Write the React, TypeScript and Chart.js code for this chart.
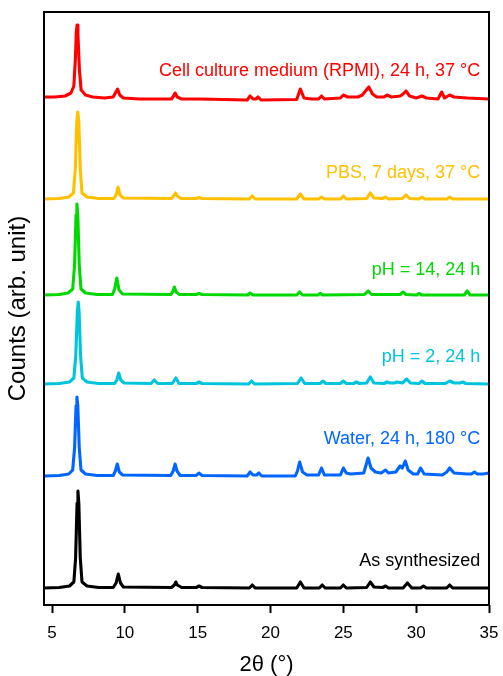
import React, { useEffect, useRef } from 'react';
import Chart from 'chart.js/auto';

// 2θ (°) / intensity (arb.) point lists; each trace relative to its own baseline
const asSynthesized: [number, number][] = [
  [4.45, 0], [5.5, 0.5], [6.2, 2], [6.5, 6], [6.62, 30], [6.72, 85], [6.78, 97], [6.84, 85], [6.94, 30],
  [7.06, 6], [7.4, 2], [8.2, 0.5], [9.2, 0.5], [9.4, 5], [9.55, 14], [9.7, 5], [9.9, 1], [13.2, 0.5],
  [13.4, 3], [13.5, 6], [13.6, 3], [13.9, 0.5], [14.9, 0.5], [15.1, 2], [15.3, 0.5], [18.55, 0], [18.75, 3],
  [18.95, 0], [21.8, 0], [22.05, 6], [22.3, 0], [23.35, 0], [23.55, 3], [23.75, 0], [24.8, 0], [25.0, 3],
  [25.2, 0], [26.6, 0.5], [26.85, 6], [27.1, 1], [27.7, 0.5], [27.9, 2], [28.1, 0], [29.1, 0], [29.4, 5],
  [29.7, 0], [30.3, 0], [30.5, 2], [30.7, 0], [32.1, 0], [32.3, 3], [32.5, 0], [35, 0],
];

const water180: [number, number][] = [
  [4.45, 0], [5.5, 0.5], [6.15, 2], [6.42, 6], [6.55, 28], [6.65, 70], [6.71, 79], [6.77, 70], [6.87, 28],
  [6.99, 6], [7.3, 2], [8.1, 0.5], [9.2, 0.5], [9.35, 5], [9.48, 12], [9.62, 4], [9.85, 1], [13.15, 0.5],
  [13.32, 5], [13.45, 12], [13.58, 5], [13.8, 0.5], [14.9, 0.5], [15.08, 3], [15.3, 0.5], [18.4, 0],
  [18.6, 4], [18.8, 1], [19.05, 1], [19.2, 3], [19.4, 0], [21.7, 0], [21.85, 5], [22.0, 14], [22.2, 4],
  [22.5, 1], [23.3, 1], [23.5, 8], [23.7, 1], [24.8, 1], [25.0, 8], [25.2, 3], [25.5, 2], [26.4, 3],
  [26.7, 18], [26.9, 8], [27.2, 4], [27.6, 3], [27.9, 6], [28.1, 3], [28.6, 4], [28.9, 10], [29.05, 8],
  [29.25, 15], [29.45, 6], [29.8, 2], [30.1, 2], [30.3, 8], [30.55, 2], [31.8, 1], [32.1, 4], [32.3, 8],
  [32.6, 3], [33.5, 2], [33.8, 2], [34.0, 4], [34.2, 2], [34.6, 2], [35, 3],
];

const pH2: [number, number][] = [
  [4.45, 0], [5.5, 0.5], [6.2, 2], [6.5, 6], [6.63, 28], [6.74, 72], [6.8, 82], [6.86, 72], [6.96, 28],
  [7.08, 6], [7.4, 2], [8.2, 0.5], [9.3, 0.5], [9.45, 4], [9.58, 11], [9.72, 4], [9.95, 1], [11.8, 0.5],
  [12.02, 4], [12.25, 0.5], [13.25, 0.5], [13.5, 6], [13.72, 0.5], [14.9, 0.5], [15.1, 2], [15.3, 0.5],
  [18.5, 0], [18.7, 3], [18.9, 0], [21.85, 0.5], [22.1, 6], [22.35, 0.5], [23.4, 0.5], [23.6, 3],
  [23.8, 0.5], [24.8, 0.5], [25.0, 3], [25.2, 0.5], [25.7, 0.5], [25.9, 2], [26.1, 0.5], [26.6, 1],
  [26.85, 7], [27.1, 1], [27.8, 0.5], [28.0, 2], [28.2, 1], [28.5, 1], [28.7, 2], [29.05, 1], [29.35, 5],
  [29.6, 1], [30.2, 0.5], [30.4, 3], [30.6, 0.5], [32.0, 0.5], [32.3, 3], [32.6, 1], [33.0, 1], [33.2, 2],
  [33.4, 0.5], [35, 0],
];

const pH14: [number, number][] = [
  [4.45, 0], [5.5, 0.5], [6.1, 2], [6.42, 6], [6.55, 30], [6.65, 80], [6.71, 91], [6.77, 80], [6.87, 30],
  [6.99, 6], [7.3, 2], [8.1, 0.5], [9.15, 0.5], [9.3, 6], [9.45, 17], [9.6, 5], [9.85, 1], [13.15, 0.5],
  [13.28, 3], [13.4, 8], [13.52, 3], [13.75, 0.5], [14.9, 0.5], [15.1, 1.5], [15.3, 0.5], [18.45, 0],
  [18.6, 2], [18.8, 0], [21.8, 0], [22.0, 3], [22.2, 0], [23.25, 0], [23.4, 1.5], [23.6, 0], [26.45, 0.5],
  [26.7, 4], [26.95, 0.5], [28.9, 0.5], [29.1, 3], [29.3, 0.5], [30.05, 0], [30.2, 1.5], [30.4, 0],
  [33.3, 0], [33.5, 4], [33.7, 0], [35, 0],
];

const pbs7d: [number, number][] = [
  [4.45, 0], [5.5, 0.5], [6.15, 2], [6.47, 6], [6.6, 30], [6.7, 77], [6.77, 87], [6.84, 77], [6.94, 30],
  [7.06, 6], [7.4, 2], [8.2, 0.5], [9.25, 0.5], [9.4, 4], [9.53, 12], [9.67, 4], [9.9, 1], [13.2, 0.5],
  [13.35, 3], [13.48, 6], [13.6, 3], [13.85, 0.5], [14.9, 0.5], [15.1, 1.5], [15.3, 0.5], [18.55, 0],
  [18.75, 3], [18.95, 0], [21.8, 0], [22.05, 5], [22.3, 0], [23.3, 0], [23.5, 2], [23.7, 0], [24.8, 0],
  [25.0, 3], [25.2, 0], [26.6, 0.5], [26.85, 6], [27.1, 1], [27.7, 0.5], [27.9, 2], [28.1, 0], [29.05, 0.5],
  [29.3, 4], [29.55, 0.5], [30.2, 0], [30.4, 2], [30.6, 0], [32.1, 0], [32.3, 2], [32.5, 0], [35, 0],
];

const rpmi24h: [number, number][] = [
  [4.45, 3], [5.2, 3], [5.9, 4], [6.3, 7], [6.5, 14], [6.6, 40], [6.67, 68], [6.72, 75], [6.78, 66],
  [6.88, 30], [7.0, 10], [7.3, 5], [7.8, 3], [8.6, 2], [9.2, 3], [9.35, 7], [9.5, 11], [9.65, 5], [9.9, 2],
  [11, 1], [13.2, 1], [13.35, 4], [13.45, 7], [13.6, 3], [13.9, 1], [15.1, 1], [18.4, 0], [18.6, 4],
  [18.8, 1], [19.0, 1], [19.15, 3], [19.35, 0], [21.8, 0.5], [22.05, 11], [22.3, 2], [22.8, 1], [23.3, 1],
  [23.5, 4], [23.7, 1], [24.8, 2], [25.0, 5], [25.3, 3], [26.0, 3], [26.3, 5], [26.75, 13], [27.0, 6],
  [27.3, 3], [27.8, 3], [28.0, 5], [28.3, 3], [28.9, 4], [29.1, 6], [29.3, 9], [29.55, 4], [30.0, 2],
  [30.4, 4], [30.7, 2], [31.5, 1], [31.75, 8], [31.95, 2], [32.3, 5], [32.6, 3], [33.5, 2], [35, 1],
];

const traces = [asSynthesized, water180, pH2, pH14, pbs7d, rpmi24h];
const traceNames = [
  'As synthesized',
  'Water, 24 h, 180 °C',
  'pH = 2, 24 h',
  'pH = 14, 24 h',
  'PBS, 7 days, 37 °C',
  'Cell culture medium (RPMI), 24 h, 37 °C',
];
const offsets = [17, 129, 221, 310, 406, 505];
const xTicks = [5, 10, 15, 20, 25, 30, 35];

const colors = ['#000000', '#0066ff', '#00c4dc', '#00d800', '#ffc000', '#ff0000'];
const labelLift = [44, 166, 248, 335, 432, 534]; // label centre height in y units
const FONT = '"Liberation Sans", Arial, sans-serif';

const framePlugin = {
  id: 'frameAndLabels',
  afterDatasetsDraw(chart: Chart) {
    const { ctx, chartArea, scales } = chart;
    ctx.save();
    ctx.strokeStyle = '#000';
    ctx.lineWidth = 2;
    ctx.strokeRect(chartArea.left, chartArea.top, chartArea.right - chartArea.left, chartArea.bottom - chartArea.top);
    ctx.font = `18px ${FONT}`;
    ctx.textAlign = 'right';
    ctx.textBaseline = 'middle';
    traceNames.forEach((name, i) => {
      ctx.fillStyle = colors[i];
      ctx.fillText(name, scales.x.getPixelForValue(34.4), scales.y.getPixelForValue(labelLift[i]));
    });
    ctx.restore();
  },
};

export default function App() {
  const canvasRef = useRef<HTMLCanvasElement>(null);
  const chartRef = useRef<Chart>();

  useEffect(() => {
    if (!canvasRef.current) return;
    chartRef.current?.destroy();
    chartRef.current = new Chart(canvasRef.current, {
      type: 'line',
      data: {
        datasets: traces.map((pts, i) => ({
          label: traceNames[i],
          data: pts.map(([x, y]) => ({ x, y: y + offsets[i] })),
          borderColor: colors[i],
          borderWidth: 3.1,
          pointRadius: 0,
          tension: 0,
          borderJoinStyle: 'round' as const,
          fill: false,
        })),
      },
      options: {
        responsive: true,
        maintainAspectRatio: false,
        animation: false,
        layout: { padding: { top: 12, right: 14, left: 0, bottom: 0 } },
        plugins: { legend: { display: false }, tooltip: { enabled: false } },
        scales: {
          x: {
            type: 'linear',
            min: 4.45,
            max: 35,
            afterBuildTicks: (s: any) => { s.ticks = xTicks.map(v => ({ value: v })); },
            afterFit: (s: any) => { s.height = 71; s.paddingLeft = 0; s.paddingRight = 0; },
            border: { display: false },
            grid: { drawOnChartArea: false, drawTicks: true, tickLength: 8, tickWidth: 2, color: '#000' },
            ticks: { color: '#000', font: { family: FONT, size: 17 }, padding: 10, maxRotation: 0 },
            title: { display: true, text: '2θ (°)', color: '#000', font: { family: FONT, size: 22, lineHeight: 1 }, padding: { top: 0, bottom: 0 } },
          },
          y: {
            type: 'linear',
            min: 0,
            max: 593,
            afterFit: (s: any) => { s.width = 44; s.paddingTop = 0; s.paddingBottom = 0; },
            border: { display: false },
            grid: { display: false },
            ticks: { display: false },
            title: { display: true, text: 'Counts (arb. unit)', color: '#000', font: { family: FONT, size: 24 }, padding: { top: 4, bottom: 0 } },
          },
        },
      },
      plugins: [framePlugin],
    });
    return () => { chartRef.current?.destroy(); };
  }, []);

  return (
    <div style={{ position: 'absolute', left: 0, top: 0, width: 503, height: 676, background: '#fff' }}>
      <canvas ref={canvasRef} />
    </div>
  );
}
